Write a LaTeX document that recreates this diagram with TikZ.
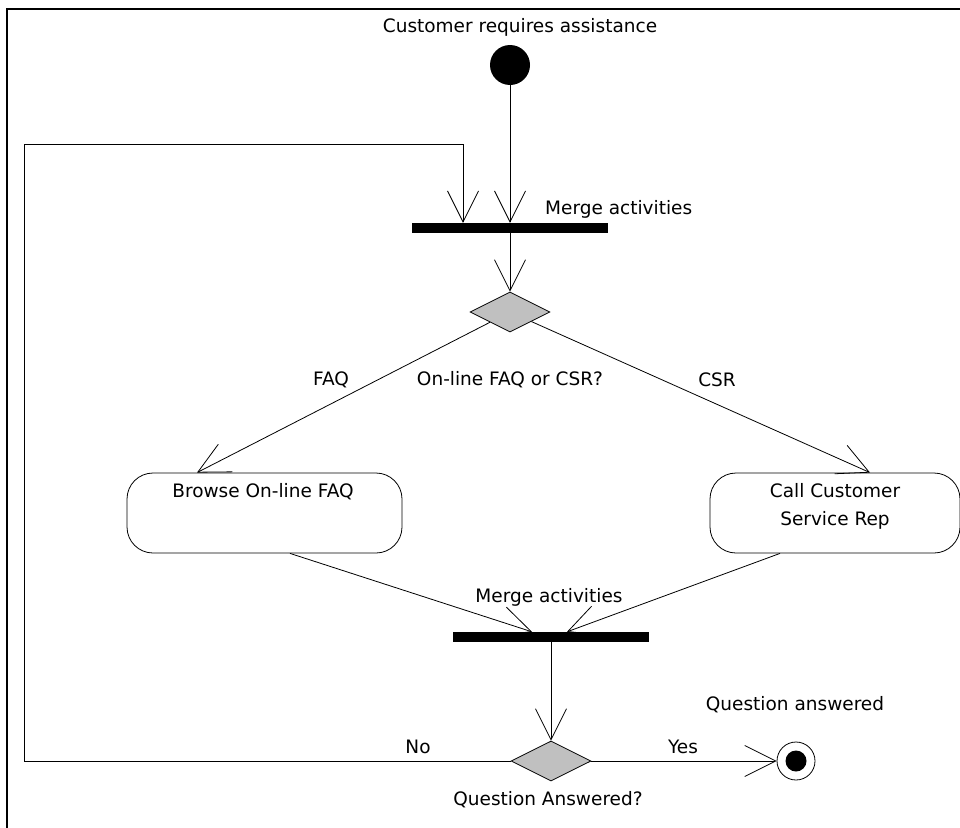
\documentclass[tikz,border=0pt]{standalone}
\usepackage{fontspec}
\setmainfont{DejaVu Sans}
\usetikzlibrary{arrows.meta,shapes.geometric}
\begin{document}
\begin{tikzpicture}[x=1pt,y=-1pt,
  lbl/.style={font=\fontsize{18.5}{28}\selectfont, inner sep=0pt, align=center},
  arr/.style={line width=0.8pt, -{Straight Barb[length=31pt,width=31pt,line width=0.8pt]}},
  ln/.style={line width=0.8pt},
  bar/.style={rectangle, fill=black, draw=none, inner sep=0pt, minimum width=196pt, minimum height=10pt},
  decision/.style={diamond, draw=black, line width=0.8pt, fill={rgb,255:red,192;green,192;blue,192}, inner sep=0pt, minimum width=80pt, minimum height=40pt, shape aspect=2},
  activity/.style={rectangle, rounded corners=26pt, draw=black, line width=0.8pt, inner sep=0pt, minimum height=80pt}
]
\useasboundingbox (0,0) rectangle (960,827);
\fill[white] (0,0) rectangle (960,827);
% frame
\draw[line width=2.3pt] (7,828) -- (7,9) -- (961,9);

% nodes
\node[circle, fill=black, minimum size=40pt, inner sep=0pt] (start) at (510,65) {};
\node[lbl] (tstart) at (520,27) {Customer requires assistance};
\node[bar] (bar1) at (510,228) {};
\node[lbl, anchor=west] (tmerge1) at (545,209) {Merge activities};
\node[decision] (d1) at (510,312) {};
\node[lbl] (tq1) at (510,380) {On-line FAQ or CSR?};
\node[lbl] (tfaq) at (331,380) {FAQ};
\node[lbl] (tcsr) at (717,380) {CSR};
\node[activity, minimum width=275pt] (browse) at (264.5,513) {};
\node[lbl] (tbrowse) at (263,492) {Browse On-line FAQ};
\node[activity, minimum width=250pt] (call) at (835,513) {};
\node[lbl] (tcall) at (835,506) {Call Customer\\Service Rep};
\node[bar] (bar2) at (551,637) {};
\node[lbl] (tmerge2) at (549,597) {Merge activities};
\node[decision] (d2) at (551,761) {};
\node[lbl] (tq2) at (548,800) {Question Answered?};
\node[lbl] (tno) at (418,747) {No};
\node[lbl] (tyes) at (683,747) {Yes};
\node[circle, draw=black, line width=0.8pt, minimum size=38pt, inner sep=0pt] (final) at (796,761) {};
\node[circle, fill=black, minimum size=21pt, inner sep=0pt] (finaldot) at (final) {};
\node[lbl] (tfinal) at (795,705) {Question answered};

% helper coordinates
\coordinate (b1in) at ([xshift=-47pt]bar1.north);
\coordinate (loopL) at (24,144);
\coordinate (browseIn) at ([xshift=-67.5pt]browse.north);
\coordinate (callIn) at ([xshift=35pt]call.north);
\coordinate (browseOut) at ([xshift=25.5pt]browse.south);
\coordinate (callOut) at ([xshift=-55pt]call.south);
\coordinate (b2inL) at ([xshift=-19pt]bar2.north);
\coordinate (b2inR) at ([xshift=16pt]bar2.north);

% connectors
\draw[arr] (start) -- (bar1);
\draw[arr] (d2.west) -| (loopL) -| (b1in);
\draw[arr] (bar1) -- (d1);
\draw[arr] (d1) -- (browseIn);
\draw[arr] (d1) -- (callIn);
\draw[arr] (browseOut) -- (b2inL);
\draw[arr] (callOut) -- (b2inR);
\draw[arr] (bar2) -- (d2);
\draw[arr] (d2.east) -- (final);
\end{tikzpicture}
\end{document}
